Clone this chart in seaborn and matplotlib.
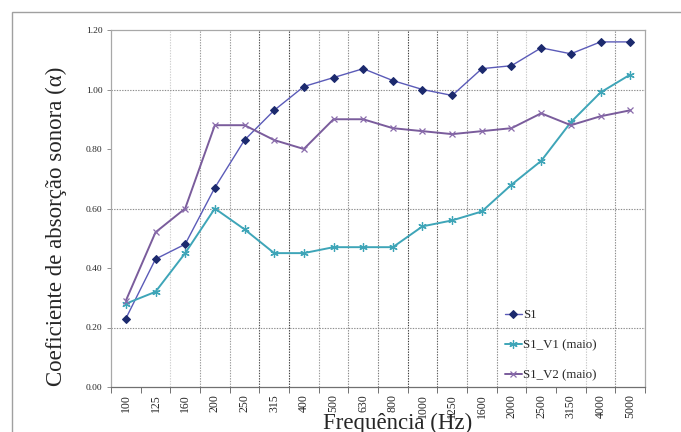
import matplotlib
matplotlib.use("Agg")
import matplotlib.pyplot as plt
import matplotlib.patches as mpatches
import numpy as np
import pandas as pd
import seaborn as sns

# Frequency bands (Hz) and absorption coefficients for each sample
frequencias = ["100", "125", "160", "200", "250", "315", "400", "500", "630",
               "800", "1000", "1250", "1600", "2000", "2500", "3150", "4000", "5000"]
s1 = [0.23, 0.43, 0.48, 0.67, 0.83, 0.93, 1.01, 1.04, 1.07,
      1.03, 1.00, 0.98, 1.07, 1.08, 1.14, 1.12, 1.16, 1.16]
s1_v1 = [0.28, 0.32, 0.45, 0.60, 0.53, 0.45, 0.45, 0.47, 0.47,
         0.47, 0.54, 0.56, 0.59, 0.68, 0.76, 0.89, 0.99, 1.05]
s1_v2 = [0.29, 0.52, 0.60, 0.88, 0.88, 0.83, 0.80, 0.90, 0.90,
         0.87, 0.86, 0.85, 0.86, 0.87, 0.92, 0.88, 0.91, 0.93]
series = ["S1", "S1_V1 (maio)", "S1_V2 (maio)"]
y_ticks = [0.00, 0.20, 0.40, 0.60, 0.80, 1.00, 1.20]

sns.set_theme(style="white")
plt.rcParams["font.family"] = ["Liberation Serif", "DejaVu Serif"]

rows = []
for nome, vals in zip(series, [s1, s1_v1, s1_v2]):
    for i, (f, v) in enumerate(zip(frequencias, vals)):
        rows.append({"serie": nome, "pos": i, "freq": f, "alpha": v})
df = pd.DataFrame(rows)

fig = plt.figure(figsize=(6.81, 4.32), dpi=100)
ax = fig.add_axes([111 / 681, 1 - 387 / 432, 534 / 681, 357 / 432])

estilos = {
    "S1": dict(color="#5b5bb8", marker="D", markersize=4.2,
               markerfacecolor="#1c2a6e", markeredgecolor="#1c2a6e", linewidth=1.0),
    "S1_V1 (maio)": dict(color="#3ea5b8", marker=(6, 2, 0), markersize=6,
                         markeredgecolor="#3ea5b8", markeredgewidth=0.9, linewidth=1.4),
    "S1_V2 (maio)": dict(color="#7a5c9c", marker="x", markersize=5,
                         markeredgecolor="#8a6cac", markeredgewidth=0.9, linewidth=1.4),
}

# Background grid: dotted verticals between bands, dotted horizontals
tons = [None, "#cfcfcf", "#9a9a9a", "#9a9a9a", "#4a4a4a", "#3a3a3a", "#9a9a9a",
        "#8a8a8a", "#7a7a7a", "#3a3a3a", "#5a5a5a", "#8a8a8a", "#8a8a8a",
        "#c8c8c8", None, "#c8c8c8", "#8a8a8a"]
for k, c in enumerate(tons):
    if c is not None:
        ax.axvline(k + 0.5, color=c, linestyle=(0, (1.2, 1.2)), linewidth=0.8, zorder=0)
for yv in [0.2, 0.6, 1.0]:
    ax.axhline(yv, color="#8c8c8c", linestyle=(0, (1.2, 1.2)), linewidth=0.8, zorder=0)

for nome in series:
    sub = df[df["serie"] == nome]
    sns.lineplot(data=sub, x="pos", y="alpha", ax=ax, label=nome,
                 estimator=None, sort=False, **estilos[nome])

ax.set_xlim(-0.5, len(frequencias) - 0.5)
ax.set_ylim(0, 1.2)
ax.set_yticks(y_ticks)
ax.set_yticklabels([f"{v:.2f}" for v in y_ticks], fontsize=6.8)
ax.set_xticks(range(len(frequencias)))
ax.set_xticklabels(frequencias, rotation=90, fontsize=8.5)
ax.set_xticks(np.arange(len(frequencias) + 1) - 0.5, minor=True)
ax.tick_params(axis="x", which="major", length=0, pad=5)
ax.tick_params(axis="x", which="minor", length=4, width=0.7, color="#707070", direction="out")
ax.tick_params(axis="y", length=3, width=0.7, color="#909090", direction="out", pad=3)
ax.tick_params(bottom=True, left=True, which="both")

for s in ax.spines.values():
    s.set_color("#a8a8a8")
    s.set_linewidth(0.9)
ax.spines["bottom"].set_color("#707070")

ax.set_xlabel("")
ax.set_ylabel("")
fig.text(56 / 681, 1 - 226 / 432, "Coeficiente de absorção sonora (α)", fontsize=16.5,
         rotation=90, ha="center", va="center")
fig.text(398 / 681, 1 - 413 / 432, "Frequência (Hz)", fontsize=16.5,
         ha="center", va="top")

leg = ax.legend(loc="upper left", bbox_to_anchor=(0.728, 0.232), frameon=False,
                fontsize=9.3, labelspacing=1.38, handlelength=1.3,
                handletextpad=0.12, borderaxespad=0)

# Outer chart frame running past the figure edges
fig.add_artist(mpatches.Rectangle((12 / 681, -0.2), 1.1, 1 - 12 / 432 + 0.2,
                                  transform=fig.transFigure, fill=False,
                                  edgecolor="#a0a0a0", linewidth=1.0))

fig.savefig("out.png", dpi=100)
